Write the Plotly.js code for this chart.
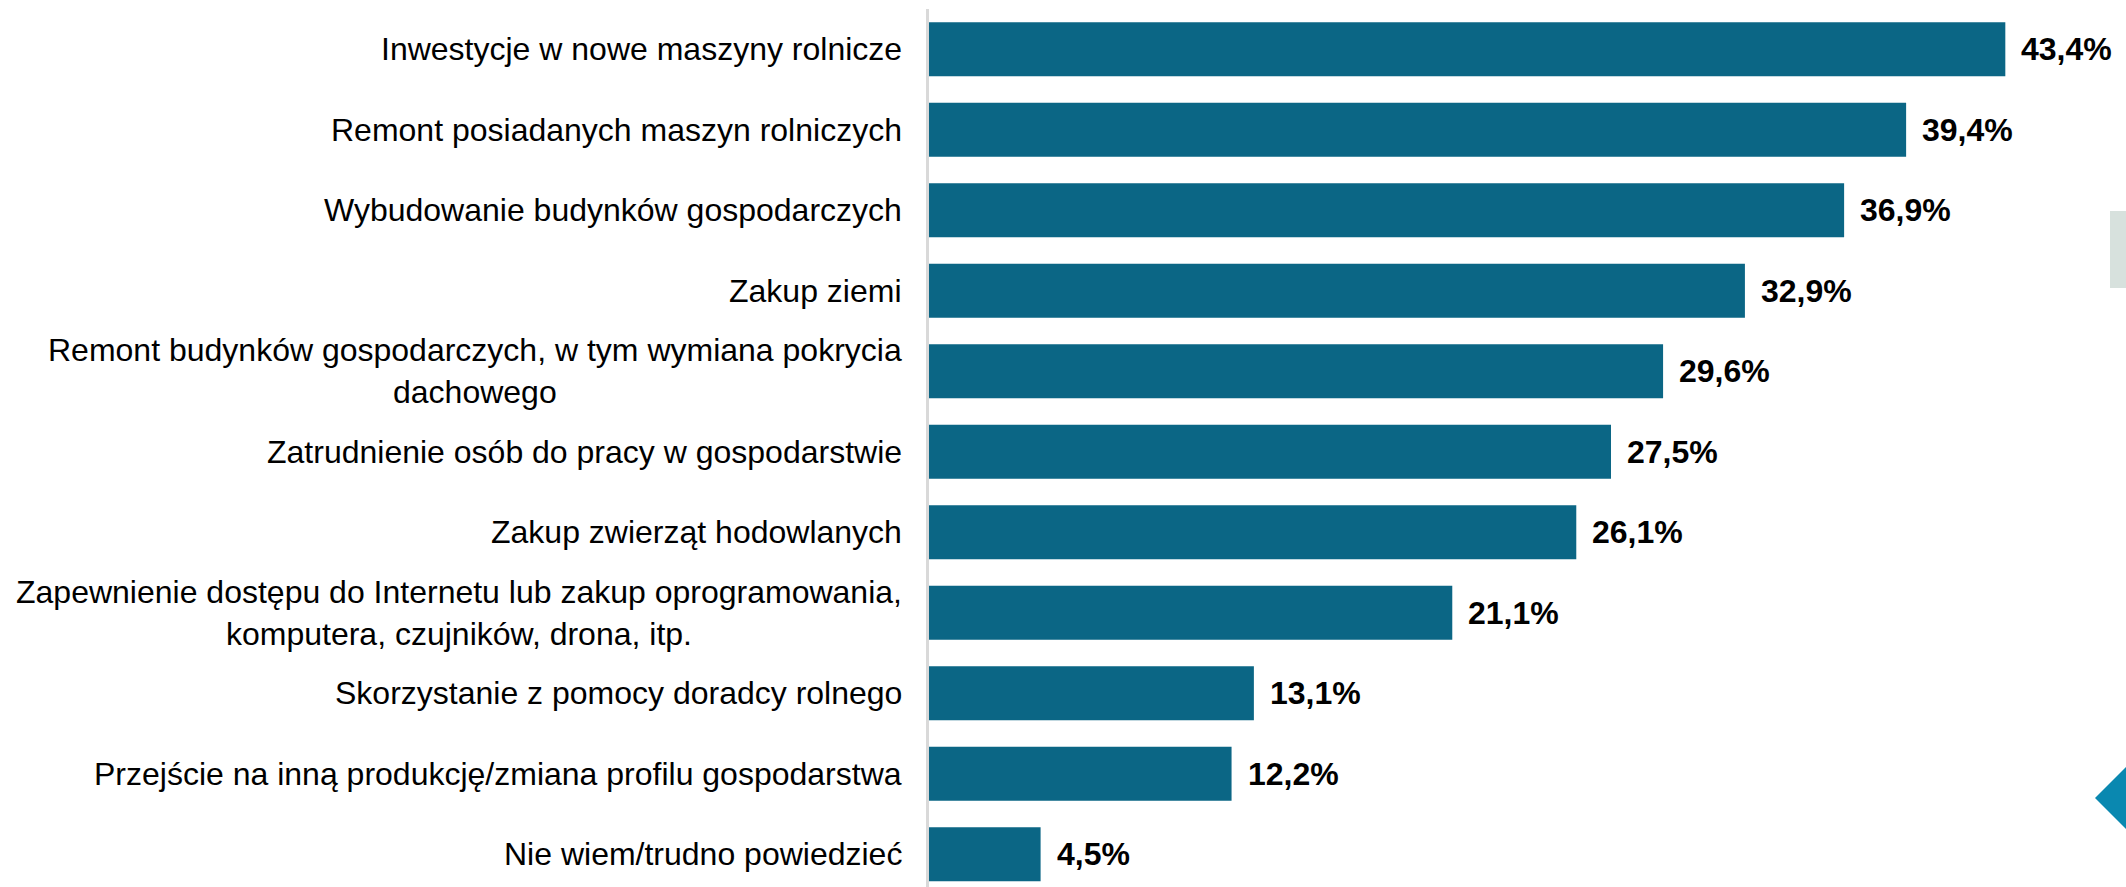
<!DOCTYPE html>
<html>
<head>
<meta charset="utf-8">
<script src="https://cdn.plot.ly/plotly-3.0.1.min.js"></script>
<style>
html,body{margin:0;padding:0;background:#fff;}
#chart{width:2126px;height:887px;}
</style>
</head>
<body>
<div id="chart"></div>
<script>
const categories = [
  "Inwestycje w nowe maszyny rolnicze",
  "Remont posiadanych maszyn rolniczych",
  "Wybudowanie budynków gospodarczych",
  "Zakup ziemi",
  "Remont budynków gospodarczych, w tym wymiana pokrycia<br>dachowego",
  "Zatrudnienie osób do pracy w gospodarstwie",
  "Zakup zwierząt hodowlanych",
  "Zapewnienie dostępu do Internetu lub zakup oprogramowania,<br>komputera, czujników, drona, itp.",
  "Skorzystanie z pomocy doradcy rolnego",
  "Przejście na inną produkcję/zmiana profilu gospodarstwa",
  "Nie wiem/trudno powiedzieć"
];
const values = [43.4, 39.4, 36.9, 32.9, 29.6, 27.5, 26.1, 21.1, 13.1, 12.2, 4.5];
const valueLabels = ["43,4%", "39,4%", "36,9%", "32,9%", "29,6%", "27,5%", "26,1%", "21,1%", "13,1%", "12,2%", "4,5%"];

const W = 2126, H = 887;
const L = 929, T = 9;
const plotW = W - L, plotH = H - T;
function px(x){ return (x - L) / plotW; }
function py(y){ return 1 - (y - T) / plotH; }

const trace = {
  type: 'bar',
  orientation: 'h',
  x: values,
  y: categories,
  marker: {color: '#0b6685'},
  hoverinfo: 'none'
};

const annotations = [];
categories.forEach((c, i) => {
  annotations.push({
    xref: 'paper', yref: 'y', x: 0, y: c,
    text: c, showarrow: false, xanchor: 'right', yanchor: 'middle',
    align: 'center', xshift: -25,
    font: {family: 'Liberation Sans, Arial, sans-serif', size: 32, color: '#000000'}
  });
  annotations.push({
    xref: 'x', yref: 'y', x: values[i], y: c,
    text: '<b>' + valueLabels[i] + '</b>', showarrow: false,
    xanchor: 'left', yanchor: 'middle', xshift: 14,
    font: {family: 'Liberation Sans, Arial, sans-serif', size: 32, color: '#000000'}
  });
});

const shapes = [
  {type: 'rect', xref: 'paper', yref: 'paper',
   x0: px(2110), x1: px(2126), y0: py(288), y1: py(211),
   fillcolor: '#d7e1dd', line: {width: 0}, layer: 'above'},
  {type: 'path', xref: 'paper', yref: 'paper',
   path: 'M ' + px(2095) + ',' + py(798) + ' L ' + px(2126) + ',' + py(767) +
         ' L ' + px(2157) + ',' + py(798) + ' L ' + px(2126) + ',' + py(829) + ' Z',
   fillcolor: '#0a88b0', line: {width: 0}, layer: 'above'}
];

const layout = {
  width: W, height: H,
  margin: {l: L, r: 0, t: T, b: 0, pad: 0},
  paper_bgcolor: '#ffffff', plot_bgcolor: '#ffffff',
  showlegend: false,
  bargap: 0.33,
  xaxis: {range: [0, plotW / 24.8], showgrid: false, zeroline: false,
          showticklabels: false, ticks: '', showline: false, fixedrange: true},
  yaxis: {type: 'category', range: [10.407, -0.5], showgrid: false, zeroline: false,
          showticklabels: false, ticks: '', showline: true, linecolor: '#d9d9d9',
          linewidth: 3, fixedrange: true},
  annotations: annotations,
  shapes: shapes
};

Plotly.newPlot('chart', [trace], layout, {displayModeBar: false, staticPlot: true});
</script>
</body>
</html>
